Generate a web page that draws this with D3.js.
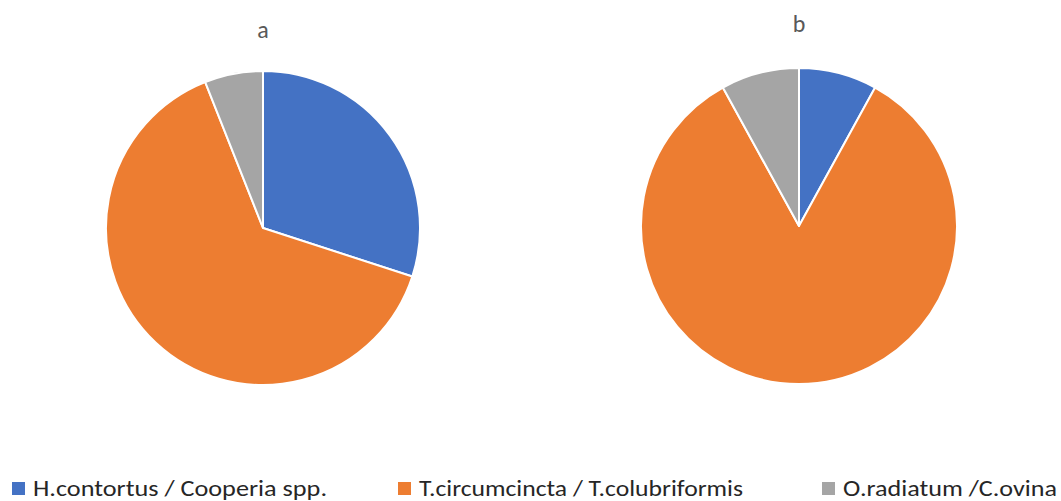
<!DOCTYPE html>
<html>
<head>
<meta charset="utf-8">
<script src="https://cdn.jsdelivr.net/npm/d3@7"></script>
<style>
  body { margin: 0; background: #fff; }
</style>
</head>
<body>
<div id="chart"></div>
<script>
// data
var categories = ["H.contortus / Cooperia spp.", "T.circumcincta / T.colubriformis", "O.radiatum /C.ovina"];
var valuesA = [30, 64, 6];
var valuesB = [8, 84, 8];
var titles = ["a", "b"];
var colors = ["#4472c4", "#ed7d31", "#a5a5a5"];

var w = 1061, h = 501;

var svg = d3.select("#chart").append("svg")
  .attr("width", w)
  .attr("height", h);

var pies = [
  { title: titles[0], values: valuesA, cx: 263, cy: 228, r: 157, ty: 38 },
  { title: titles[1], values: valuesB, cx: 799, cy: 226, r: 158, ty: 32 }
];

var pie = d3.pie().sort(null);

pies.forEach(function(p) {
  var g = svg.append("g").attr("transform", "translate(" + p.cx + "," + p.cy + ")");
  var arc = d3.arc().innerRadius(0).outerRadius(p.r);
  g.selectAll("path")
    .data(pie(p.values))
    .enter()
    .append("path")
    .attr("d", arc)
    .attr("fill", function(d, i) { return colors[i]; })
    .attr("stroke", "#fff")
    .attr("stroke-width", 2)
    .attr("stroke-linejoin", "round");

  svg.append("text")
    .attr("x", p.cx)
    .attr("y", p.ty)
    .attr("text-anchor", "middle")
    .attr("font-family", "Carlito, 'Liberation Sans Narrow', 'Liberation Sans', sans-serif")
    .attr("font-size", "24px")
    .attr("fill", "#595959")
    .text(p.title);
});

// legend
var legendX = [12, 398, 822];
var legendW = [294, 324, 214];
var leg = svg.selectAll(".leg")
  .data(categories)
  .enter()
  .append("g")
  .attr("class", "leg")
  .attr("transform", function(d, i) { return "translate(" + legendX[i] + ",482)"; });

leg.append("rect")
  .attr("width", 13)
  .attr("height", 13)
  .attr("fill", function(d, i) { return colors[i]; });

leg.append("text")
  .attr("x", 21)
  .attr("y", 14)
  .attr("font-family", "Carlito, 'Liberation Sans Narrow', 'Liberation Sans', sans-serif")
  .attr("font-size", "22px")
  .attr("fill", "#262626")
  .attr("textLength", function(d, i) { return legendW[i]; })
  .attr("lengthAdjust", "spacingAndGlyphs")
  .text(function(d) { return d; });
</script>
</body>
</html>
